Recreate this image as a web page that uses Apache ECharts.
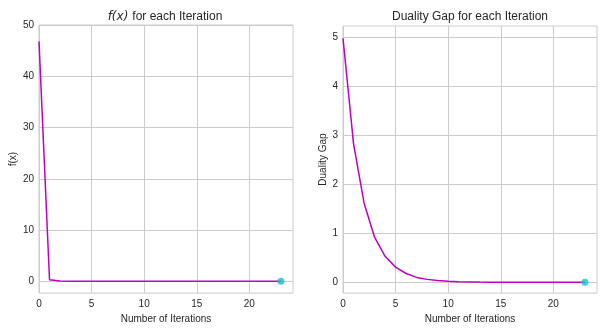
<!DOCTYPE html>
<html>
<head>
<meta charset="utf-8">
<script src="https://cdn.jsdelivr.net/npm/echarts@6/dist/echarts.min.js"></script>
<style>
  html, body { margin: 0; padding: 0; background: #ffffff; }
  #chart { width: 604px; height: 329px; }
</style>
</head>
<body>
<div id="chart"></div>
<script>
// Objective value f(x) per iteration
const fValues = [46.8, 0.30, 0.08, 0.03, 0.015, 0.01, 0.006, 0.004, 0.003, 0.002,
  0.0015, 0.001, 0.0008, 0.0006, 0.0004, 0.0003, 0.0002, 0.00015, 0.0001, 0.00008,
  0.00006, 0.00004, 0.00003, 0.00002];

// Duality gap per iteration
const gapValues = [4.98, 2.83, 1.62, 0.92, 0.53, 0.31, 0.18, 0.10, 0.06, 0.035,
  0.02, 0.012, 0.007, 0.004, 0.0025, 0.0015, 0.0009, 0.0005, 0.0003, 0.0002,
  0.0001, 0.00006, 0.00004, 0.00002];

const xTicks = [0, 5, 10, 15, 20];
const fTicks = [0, 10, 20, 30, 40, 50];
const gapTicks = [0, 1, 2, 3, 4, 5];

const titleLeft = 'f(x)';
const titleLeftRest = 'for each Iteration';
const titleRightText = 'Duality Gap for each Iteration';
const xLabel = 'Number of Iterations';
const yLabelLeft = 'f(x)';
const yLabelRight = 'Duality Gap';

const LINE = '#bf00bf';
const DOT = '#17becf';
const GRID = '#cccccc';
const TEXT = '#262626';
const FONT = 'Liberation Sans, Arial, sans-serif';

const toPairs = arr => arr.map((v, i) => [i, v]);
const lastPair = arr => [[arr.length - 1, arr[arr.length - 1]]];

function xAxis(gridIndex) {
  return {
    type: 'value', gridIndex, min: 0, max: 24.15,
    name: xLabel, nameLocation: 'middle', nameGap: 19,
    nameTextStyle: { color: TEXT, fontFamily: FONT, fontSize: 10 },
    axisLine: { show: false }, axisTick: { show: false, customValues: xTicks },
    axisLabel: { customValues: xTicks, color: TEXT, fontFamily: FONT, fontSize: 10, margin: 6 },
    splitLine: { show: true, lineStyle: { color: GRID, width: 1 } }
  };
}

function yAxis(gridIndex, min, max, ticks, name, nameGap) {
  return {
    type: 'value', gridIndex, min, max,
    name, nameLocation: 'middle', nameGap,
    nameTextStyle: { color: TEXT, fontFamily: FONT, fontSize: 10 },
    axisLine: { show: false }, axisTick: { show: false, customValues: ticks },
    axisLabel: { customValues: ticks, color: TEXT, fontFamily: FONT, fontSize: 10, margin: 5 },
    splitLine: { show: true, lineStyle: { color: GRID, width: 1 } }
  };
}

function lineSeries(idx, data) {
  return {
    type: 'line', xAxisIndex: idx, yAxisIndex: idx, data: toPairs(data),
    showSymbol: false, symbol: 'none', silent: true, animation: false,
    lineStyle: { color: LINE, width: 1.5 }
  };
}

function dotSeries(idx, data) {
  return {
    type: 'scatter', xAxisIndex: idx, yAxisIndex: idx, data: lastPair(data),
    symbolSize: 7, itemStyle: { color: DOT }, silent: true, animation: false, z: 5
  };
}

const chart = echarts.init(document.getElementById('chart'), null, { renderer: 'canvas' });
chart.setOption({
  animation: false,
  backgroundColor: '#ffffff',
  title: [
    {
      text: '{i|' + titleLeft + '}{n|' + titleLeftRest + '}',
      left: 160, top: 6, textAlign: 'center',
      textStyle: {
        fontWeight: 'normal',
        rich: {
          i: { fontFamily: 'DejaVu Sans', fontStyle: 'italic', fontWeight: 'normal', fontSize: 12, color: TEXT, padding: [0, 4, 0, 0] },
          n: { fontFamily: FONT, fontWeight: 'normal', fontSize: 12, color: TEXT }
        }
      }
    },
    {
      text: titleRightText, left: 465, top: 6, textAlign: 'center',
      textStyle: { fontFamily: FONT, fontSize: 12, fontWeight: 'normal', color: TEXT }
    }
  ],
  grid: [
    { left: 39, top: 25, width: 254, height: 271, show: true, borderColor: GRID, borderWidth: 1, backgroundColor: 'transparent' },
    { left: 343, top: 26, width: 254, height: 270, show: true, borderColor: GRID, borderWidth: 1, backgroundColor: 'transparent' }
  ],
  xAxis: [xAxis(0), xAxis(1)],
  yAxis: [
    yAxis(0, -2.3, 50, fTicks, yLabelLeft, 21),
    yAxis(1, -0.22, 5.23, gapTicks, yLabelRight, 10)
  ],
  series: [
    lineSeries(0, fValues), dotSeries(0, fValues),
    lineSeries(1, gapValues), dotSeries(1, gapValues)
  ]
});
</script>
</body>
</html>
